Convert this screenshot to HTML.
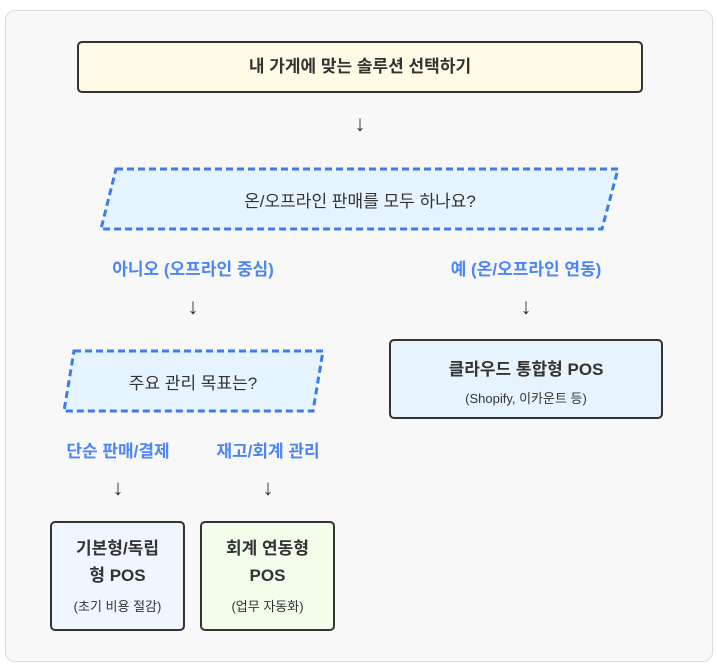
<!DOCTYPE html>
<html><head><meta charset="utf-8"><style>
html,body{margin:0;padding:0;background:#fff;}
body{width:718px;height:667px;position:relative;font-family:"Liberation Sans","Noto Sans CJK KR",sans-serif;color:#333;overflow:hidden;}
.outer{position:absolute;left:5px;top:10px;width:706px;height:650px;background:#f8f8f8;border:1px solid #ddd;border-radius:10px;}
.abs{position:absolute;}
.t{position:absolute;text-align:center;white-space:nowrap;transform:translateX(-50%);}
.lbl{color:#4a86f7;font-weight:bold;font-size:17px;}
.arr{font-size:22px;color:#333;}
.box{position:absolute;box-sizing:border-box;border:2px solid #333;border-radius:5px;text-align:center;}
</style></head><body>
<div class="outer"></div>
<div class="box" style="left:77px;top:41px;width:566px;height:52px;background:#fffbe6;font-weight:bold;font-size:17px;line-height:48px;">내 가게에 맞는 솔루션 선택하기</div>
<div class="t arr" style="left:360px;top:111px;">↓</div>
<svg class="abs" style="left:0;top:0" width="718" height="667">
<polygon points="116,169 618,169 602,229 101,229" fill="#e6f4ff" stroke="#3b7cf0" stroke-width="3" stroke-dasharray="7,4"/>
<polygon points="74,351 323,351 313,411 64,411" fill="#e6f4ff" stroke="#3b7cf0" stroke-width="3" stroke-dasharray="7,4"/>
</svg>
<div class="t" style="left:360px;top:187px;font-size:17px;">온/오프라인 판매를 모두 하나요?</div>
<div class="t lbl" style="left:193px;top:255px;">아니오 (오프라인 중심)</div>
<div class="t lbl" style="left:526px;top:255px;">예 (온/오프라인 연동)</div>
<div class="t arr" style="left:193px;top:294px;">↓</div>
<div class="t arr" style="left:526px;top:294px;">↓</div>
<div class="t" style="left:193px;top:369px;font-size:17px;">주요 관리 목표는?</div>
<div class="box" style="left:389px;top:339px;width:274px;height:80px;background:#e8f4fd;">
<div style="font-weight:bold;font-size:17px;margin-top:14px;">클라우드 통합형 POS</div>
<div style="font-size:13px;margin-top:8px;">(Shopify, 이카운트 등)</div></div>
<div class="t lbl" style="left:118px;top:437px;">단순 판매/결제</div>
<div class="t lbl" style="left:268px;top:437px;">재고/회계 관리</div>
<div class="t arr" style="left:118px;top:475px;">↓</div>
<div class="t arr" style="left:268px;top:475px;">↓</div>
<div class="box" style="left:50px;top:521px;width:135px;height:110px;background:#eff6ff;">
<div style="font-weight:bold;font-size:17px;line-height:27px;margin-top:12px;">기본형/독립<br>형 POS</div>
<div style="font-size:13px;margin-top:7px;">(초기 비용 절감)</div></div>
<div class="box" style="left:200px;top:521px;width:135px;height:110px;background:#f3fdeb;">
<div style="font-weight:bold;font-size:17px;line-height:27px;margin-top:12px;">회계 연동형<br>POS</div>
<div style="font-size:13px;margin-top:7px;">(업무 자동화)</div></div>
</body></html>
